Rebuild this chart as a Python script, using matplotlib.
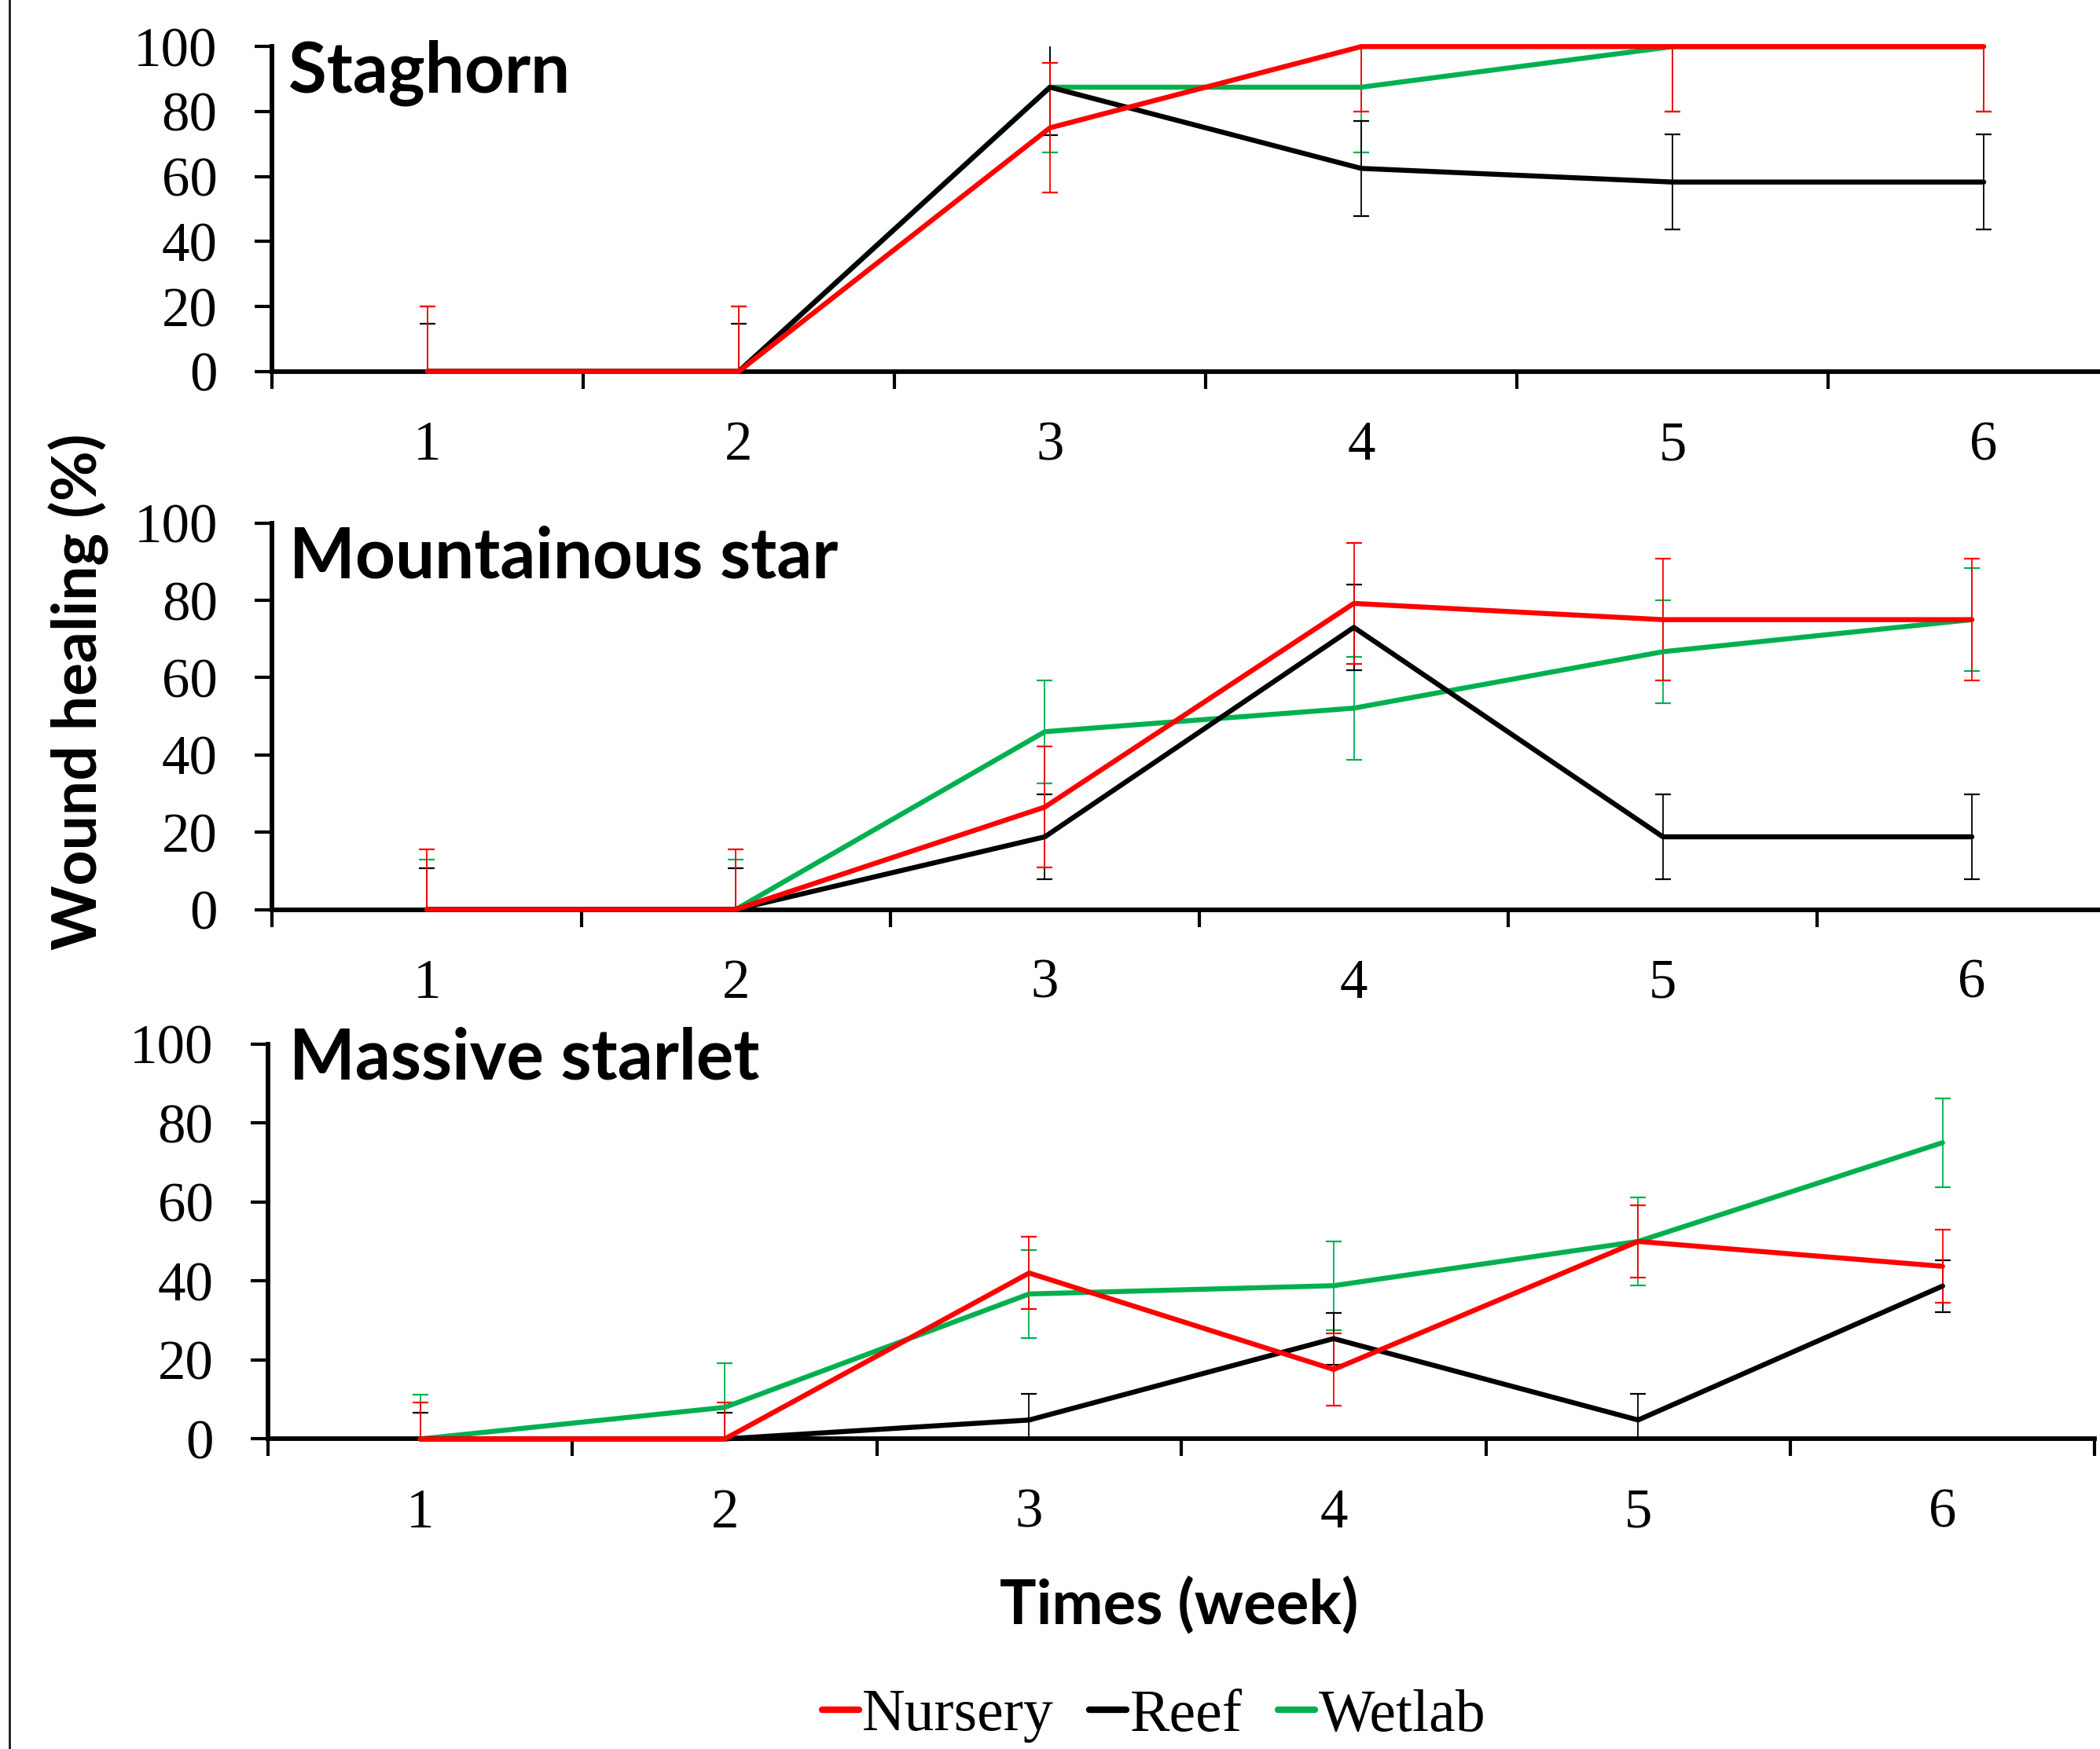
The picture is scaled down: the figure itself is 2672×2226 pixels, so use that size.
import matplotlib
matplotlib.use('Agg')
import matplotlib.pyplot as plt
from matplotlib.lines import Line2D
from matplotlib.ticker import FixedLocator

W, H = 2672, 2226
DPI = 100

# ---------------- data ----------------
weeks = [1, 2, 3, 4, 5, 6]
week_labels = ['1', '2', '3', '4', '5', '6']
y_ticks = [0, 20, 40, 60, 80, 100]
series_names = ['Nursery', 'Reef', 'Wetlab']
panel_titles = ['Staghorn', 'Mountainous star', 'Massive starlet']

stag_nursery = [0, 0, 75, 100, 100, 100]
stag_nursery_err = [20, 20, 20, 20, 20, 20]
stag_reef = [0, 0, 87.5, 62.5, 58.3, 58.3]
stag_reef_err = [14.7, 14.7, 14.7, 14.7, 14.7, 14.7]
stag_wetlab = [0, 0, 87.5, 87.5, 100, 100]
stag_wetlab_err = [20, 20, 20, 20, 20, 20]

mount_nursery = [0, 0, 26.5, 79.2, 75, 75]
mount_nursery_err = [15.5, 15.5, 15.7, 15.7, 15.7, 15.7]
mount_reef = [0, 0, 18.8, 73.0, 18.8, 18.8]
mount_reef_err = [10.7, 10.7, 11.0, 11.0, 11.0, 11.0]
mount_wetlab = [0, 0, 46.0, 52.1, 66.7, 75]
mount_wetlab_err = [13.0, 13.0, 13.3, 13.3, 13.3, 13.3]

mass_nursery = [0, 0, 42.0, 17.6, 50.0, 43.7]
mass_nursery_err = [9.2, 9.2, 9.2, 9.2, 9.2, 9.2]
mass_reef = [0, 0, 4.8, 25.4, 4.8, 38.7]
mass_reef_err = [6.6, 6.6, 6.6, 6.6, 6.6, 6.6]
mass_wetlab = [0, 8.0, 36.7, 38.8, 50.0, 75.0]
mass_wetlab_err = [11.2, 11.2, 11.2, 11.2, 11.2, 11.2]

panel_data = [
    {'Nursery': (stag_nursery, stag_nursery_err), 'Reef': (stag_reef, stag_reef_err),
     'Wetlab': (stag_wetlab, stag_wetlab_err)},
    {'Nursery': (mount_nursery, mount_nursery_err), 'Reef': (mount_reef, mount_reef_err),
     'Wetlab': (mount_wetlab, mount_wetlab_err)},
    {'Nursery': (mass_nursery, mass_nursery_err), 'Reef': (mass_reef, mass_reef_err),
     'Wetlab': (mass_wetlab, mass_wetlab_err)},
]

colors = {'Nursery': '#FF0000', 'Reef': '#000000', 'Wetlab': '#00B050'}
zorders = {'Wetlab': 4, 'Reef': 5, 'Nursery': 6}

# ---------------- layout (pixel geometry) ----------------
# (left px, width px, y0 px, y100 px)
panel_px = [
    (346, 6 * 396.0, 472.7, 59.3),
    (346.4, 6 * 393.2, 1157.5, 665.7),
    (341, 6 * 387.4, 1831.4, 1328.6),
]
title_px = [(367, 117), (368, 736), (368, 1374)]

serif = 'Liberation Serif'
sans = 'Lato'

fig = plt.figure(figsize=(W / DPI, H / DPI), dpi=DPI)

for i, (l, w, y0, y100) in enumerate(panel_px):
    ax = fig.add_axes([l / W, 1 - y0 / H, w / W, (y0 - y100) / H])
    data = panel_data[i]
    for name in series_names:
        vals, errs = data[name]
        c = colors[name]
        ax.errorbar(weeks, vals, yerr=errs, fmt='none', ecolor=c, elinewidth=1.3,
                    capsize=7, capthick=1.6, zorder=zorders[name] - 2)
        ax.plot(weeks, vals, color=c, lw=4.6, solid_capstyle='round',
                solid_joinstyle='round', zorder=zorders[name], clip_on=False)
    ax.set_xlim(0.5, 6.5)
    ax.set_ylim(0, 100)
    ax.set_xticks(weeks)
    ax.set_xticklabels(week_labels, fontfamily=serif, fontsize=51)
    ax.xaxis.set_minor_locator(FixedLocator([0.5, 1.5, 2.5, 3.5, 4.5, 5.5, 6.5]))
    ax.tick_params(axis='x', which='major', length=0, pad=45)
    ax.tick_params(axis='x', which='minor', length=16, width=3, direction='out')
    ax.set_yticks(y_ticks)
    ax.set_yticklabels([str(v) for v in y_ticks], fontfamily=serif, fontsize=51)
    ax.tick_params(axis='y', which='major', length=16, width=3, direction='out', pad=34)
    for s in ['top', 'right']:
        ax.spines[s].set_visible(False)
    for s in ['left', 'bottom']:
        ax.spines[s].set_linewidth(4.2)
        ax.spines[s].set_zorder(2)
    ax.patch.set_visible(False)
    tx, ty = title_px[i]
    fig.text(tx / W, 1 - ty / H, panel_titles[i], fontfamily=sans, fontweight='bold',
             fontsize=64, ha='left', va='baseline')

fig.text(100 / W, 1 - 880 / H, 'Wound healing (%)', rotation=90, fontfamily=sans,
         fontweight='bold', fontsize=56.5, ha='center', va='center')
fig.text(1500 / W, 1 - 2068 / H, 'Times (week)', fontfamily=sans, fontweight='bold',
         fontsize=56, ha='center', va='baseline')

handles = [Line2D([0], [0], color=colors[n], lw=6, solid_capstyle='round') for n in series_names]
fig.legend(handles, series_names, loc='center', bbox_to_anchor=(1468 / W, 1 - 2184 / H),
           ncol=3, frameon=False, prop={'family': serif, 'size': 54.5},
           handlelength=0.62, handletextpad=0.06, columnspacing=0.6,
           borderpad=0, borderaxespad=0)

fig.add_artist(Line2D([11.5 / W, 11.5 / W], [0, 1], transform=fig.transFigure,
                      color='black', lw=1.8))

fig.savefig('out.png', dpi=DPI)
